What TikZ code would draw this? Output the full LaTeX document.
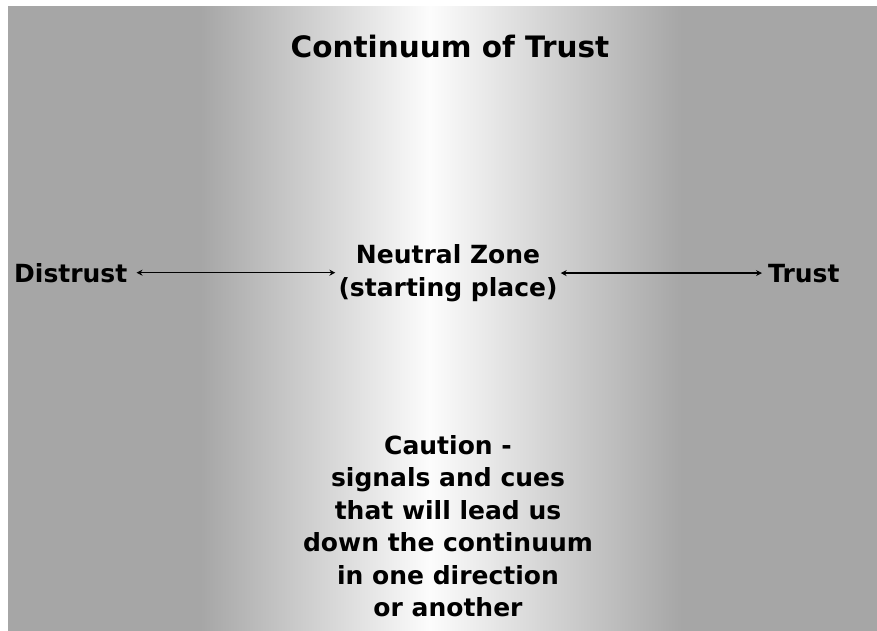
\documentclass[tikz,border=0pt]{standalone}
\usepackage{fontspec}
\setmainfont{DejaVu Sans}
\usetikzlibrary{arrows.meta}
\definecolor{bggray}{RGB}{166,166,166}
\definecolor{bgwhite}{RGB}{252,252,252}
\pgfdeclarehorizontalshading{trustbg}{100bp}{%
  color(0bp)=(bggray); color(36.05bp)=(bggray);
  color(49.28bp)=(bgwhite);
  color(63.78bp)=(bggray); color(100bp)=(bggray)}
\tikzset{
  lbl/.style={font=\fontsize{25}{32.5}\selectfont\bfseries, text=black, inner sep=0pt},
  ttl/.style={font=\fontsize{29.5}{36}\selectfont\bfseries, text=black, inner sep=0pt},
  arr/.style={line width=1.5pt, {Stealth[length=6pt,width=6pt]}-{Stealth[length=6pt,width=6pt]}},
}
\begin{document}
\begin{tikzpicture}[x=1pt,y=-1pt]
\useasboundingbox (0,0) rectangle (877,630);
\fill[white] (0,0) rectangle (877,630);
\shade[shading=trustbg] (8,6) rectangle (877,630);
\node[ttl, anchor=base] (title) at (450,57) {Continuum of Trust};
\node[lbl, anchor=base west] (distrust) at (14,282) {Distrust};
\node[lbl, anchor=base west] (trust) at (768,282) {Trust};
\node[lbl, align=center, anchor=base] (neutral) at (448,296) {Neutral Zone\\(starting place)};
\node[lbl, align=center, anchor=north] (caution) at (448,435) {Caution -\\signals and cues\\that will lead us\\down the continuum\\in one direction\\or another};
\draw[arr, shorten <=9pt, shorten >=3pt] (distrust.east) -- (distrust.east -| neutral.west);
\draw[arr, shorten <=3pt, shorten >=6pt] (trust.west -| neutral.east) -- (trust.west);
\end{tikzpicture}
\end{document}
